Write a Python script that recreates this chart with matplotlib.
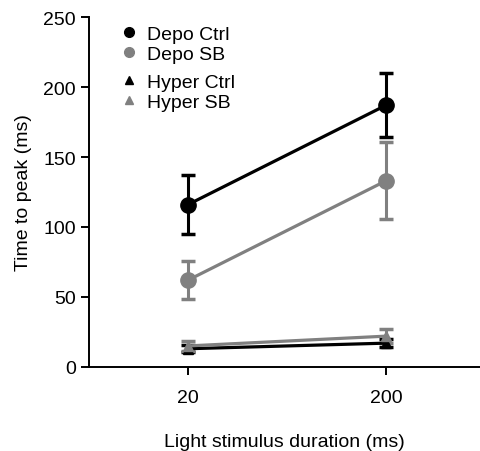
import numpy as np
import matplotlib.pyplot as plt

plt.rcParams['font.family'] = ['Liberation Sans', 'DejaVu Sans']
plt.rcParams['font.size'] = 14

# data
durations = ['20', '200']
depo_ctrl = [116, 187]
depo_ctrl_err = [21, 23]
depo_sb = [62, 133]
depo_sb_err = [13.5, 27.5]
hyper_ctrl = [13, 17]
hyper_ctrl_err = [2.5, 3]
hyper_sb = [15, 22]
hyper_sb_err = [3.5, 5]

x = np.arange(len(durations))
grey = '#808080'

fig = plt.figure(figsize=(4.81, 4.52), dpi=100)
ax = fig.add_axes([0.185, 0.186, 0.813, 0.774])

series = [
    (depo_ctrl, depo_ctrl_err, 'k', 'o', 11, 'Depo Ctrl'),
    (depo_sb, depo_sb_err, grey, 'o', 11, 'Depo SB'),
    (hyper_ctrl, hyper_ctrl_err, 'k', '^', 7, 'Hyper Ctrl'),
    (hyper_sb, hyper_sb_err, grey, '^', 7, 'Hyper SB'),
]
handles = []
for vals, err, c, m, ms, lab in series:
    ax.errorbar(x, vals, yerr=err, color=c, marker=m, markersize=ms,
                linewidth=2.3, elinewidth=2.2, capsize=5, capthick=2.5,
                label=lab)
    handles.append(plt.Line2D([], [], color=c, marker=m, linestyle='none',
                              markersize=7 if m == 'o' else 6, label=lab))

fig.legend(handles=handles[:2], loc='upper left', frameon=False,
           bbox_to_anchor=(0.243, 0.942), handletextpad=0.35,
           labelspacing=0.12, borderaxespad=0, borderpad=0,
           handlelength=1.2)
fig.legend(handles=handles[2:], loc='upper left', frameon=False,
           bbox_to_anchor=(0.243, 0.835), handletextpad=0.35,
           labelspacing=0.12, borderaxespad=0, borderpad=0,
           handlelength=1.2)

ax.set_xlim(-0.5, 1.475)
ax.set_ylim(0, 250)
ax.set_xticks(x)
ax.set_xticklabels(durations)
ax.set_yticks([0, 50, 100, 150, 200, 250])
ax.spines['top'].set_visible(False)
ax.spines['right'].set_visible(False)
for s in ['left', 'bottom']:
    ax.spines[s].set_linewidth(1.4)
ax.tick_params(width=1.4, length=6)
ax.tick_params(axis='x', pad=10)
ax.set_xlabel('Light stimulus duration (ms)', labelpad=19)
ax.set_ylabel('Time to peak (ms)', labelpad=8)

fig.savefig('out.png', dpi=100)
